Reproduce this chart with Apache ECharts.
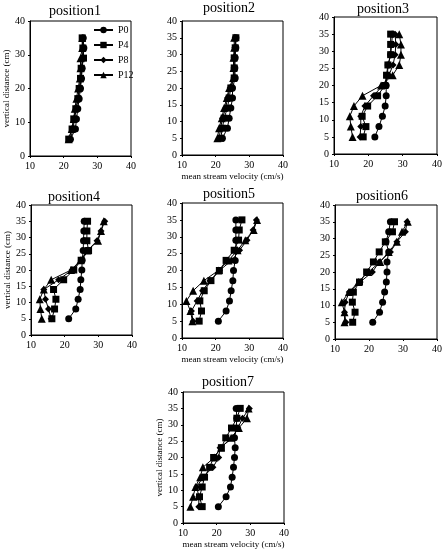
<!DOCTYPE html>
<html>
<head>
<meta charset="utf-8">
<script src="https://cdn.jsdelivr.net/npm/echarts@6/dist/echarts.min.js"></script>
<style>
  html, body { margin: 0; padding: 0; background: #fff; }
  #main { width: 445px; height: 550px; }
</style>
</head>
<body>
<div id="main"></div>
<script>
// measuring heights (cm) shared by every panel
var heights = [5, 8, 11, 14, 17, 20, 23, 26, 29, 32, 35];
var seriesNames = ['P0', 'P4', 'P8', 'P12'];
var symbols = ['circle', 'rect', 'diamond', 'triangle'];
var xTicks = [10, 20, 30, 40];

// mean stream velocity (cm/s) per panel, order P0, P4, P8, P12
var pos1 = [
    [22.0, 23.5, 23.8, 24.2, 24.6, 25.0, 25.3, 25.5, 25.8, 26.0, 25.8],
    [21.5, 22.5, 23.0, 23.6, 24.2, 24.6, 25.0, 25.2, 25.9, 25.7, 25.5],
    [22.0, 22.8, 23.2, 23.8, 24.3, 24.8, 25.2, 25.3, 25.5, 25.8, 25.8],
    [21.5, 22.4, 23.0, 23.3, 23.8, 24.3, 24.8, 25.0, 25.0, 25.5, 25.5]
];
var pos2 = [
    [22.0, 23.5, 24.0, 24.5, 25.0, 25.0, 25.8, 25.7, 25.8, 26.0, 26.0],
    [21.5, 22.0, 22.5, 23.5, 24.0, 24.5, 25.5, 25.5, 25.5, 25.8, 26.0],
    [21.0, 21.5, 22.0, 23.0, 23.5, 24.3, 25.4, 25.4, 25.5, 25.7, 25.8],
    [20.5, 21.0, 21.8, 22.5, 23.3, 24.0, 25.2, 25.3, 25.3, 25.5, 25.5]
];
var pos3 = [
    [21.9, 23.1, 24.1, 24.9, 25.2, 25.2, 25.5, 25.8, 26.5, 26.8, 27.0],
    [18.5, 19.3, 18.2, 19.8, 22.7, 24.8, 25.3, 25.7, 26.5, 26.5, 26.5],
    [17.6, 17.8, 17.8, 19.0, 21.5, 24.2, 26.0, 27.2, 27.8, 28.0, 27.8],
    [15.4, 14.9, 14.6, 15.8, 18.3, 23.7, 27.1, 29.0, 29.5, 29.5, 29.0]
];
var pos4 = [
    [21.2, 23.3, 24.0, 24.6, 24.8, 25.1, 25.2, 25.5, 25.6, 25.7, 25.8],
    [16.2, 17.0, 17.4, 16.7, 19.7, 22.7, 24.9, 27.1, 26.6, 26.6, 26.8],
    [16.0, 15.2, 14.3, 13.8, 18.2, 22.2, 24.9, 26.8, 29.6, 30.8, 31.9],
    [13.2, 12.8, 12.6, 13.8, 16.0, 21.9, 24.7, 26.8, 29.9, 30.8, 31.6]
];
var pos5 = [
    [20.8, 23.1, 24.1, 24.6, 25.1, 25.3, 25.8, 26.0, 26.0, 26.0, 26.0],
    [15.1, 15.8, 15.3, 16.6, 18.6, 21.1, 23.1, 25.5, 26.8, 27.0, 27.8],
    [13.3, 12.8, 14.5, 16.1, 18.3, 21.1, 24.8, 27.1, 29.3, 31.1, 32.1],
    [13.1, 12.5, 11.3, 13.3, 16.5, 20.8, 23.8, 26.5, 28.8, 31.3, 32.3]
];
var pos6 = [
    [21.1, 23.1, 24.0, 24.6, 25.1, 25.3, 25.3, 25.8, 25.0, 25.8, 26.3],
    [15.2, 15.9, 15.1, 15.4, 17.2, 19.3, 21.3, 23.0, 24.8, 26.9, 27.5],
    [13.2, 12.8, 13.0, 14.2, 17.4, 21.0, 23.0, 26.3, 28.2, 30.7, 31.2],
    [12.8, 12.8, 12.0, 14.1, 16.9, 19.8, 23.3, 25.8, 28.2, 29.7, 31.4]
];
var pos7 = [
    [20.5, 22.8, 24.1, 24.6, 25.0, 25.3, 25.5, 25.3, 25.8, 26.0, 25.8],
    [15.7, 14.9, 15.7, 16.4, 17.9, 19.1, 21.4, 22.7, 24.4, 26.0, 27.0],
    [14.7, 14.7, 14.1, 15.9, 18.9, 20.6, 21.0, 24.8, 26.3, 27.7, 29.7],
    [12.2, 13.0, 13.7, 15.1, 15.9, 19.3, 21.3, 24.3, 26.6, 29.0, 29.5]
];
var panels = [pos1, pos2, pos3, pos4, pos5, pos6, pos7];

// layout of each small plot: [left, top, width, height], title position, axis names shown
var layout = [
    { box: [30, 21, 101, 135], tx: 75, ty: 4, xName: false, yName: true, yStep: 10 },
    { box: [182, 21, 101, 134], tx: 229, ty: 1, xName: true, yName: false, yStep: 5 },
    { box: [334, 17, 104, 137], tx: 383, ty: 2, xName: false, yName: false, yStep: 5 },
    { box: [31, 205, 101, 130], tx: 74, ty: 190, xName: false, yName: true, yStep: 5 },
    { box: [182, 203, 101, 135], tx: 229, ty: 187, xName: true, yName: false, yStep: 5 },
    { box: [335, 205, 103, 134], tx: 382, ty: 189, xName: false, yName: false, yStep: 5 },
    { box: [183, 392, 101, 131], tx: 228, ty: 375, xName: true, yName: true, yStep: 5 }
];

var font = 'Liberation Serif';
var grids = [], xAxes = [], yAxes = [], titles = [], series = [];

layout.forEach(function (l, i) {
    grids.push({
        left: l.box[0], top: l.box[1], width: l.box[2], height: l.box[3],
        show: true, borderColor: '#000', borderWidth: 1, backgroundColor: 'transparent'
    });
    titles.push({
        text: 'position' + (i + 1),
        left: l.tx, top: l.ty, textAlign: 'center', padding: 0,
        textStyle: { fontFamily: font, fontSize: 14, fontWeight: 'normal', color: '#000' }
    });
    xAxes.push({
        gridIndex: i, type: 'value', min: xTicks[0], max: xTicks[xTicks.length - 1], interval: 10,
        name: l.xName ? 'mean stream velocity (cm/s)' : '',
        nameLocation: 'middle', nameGap: 17,
        nameTextStyle: { fontFamily: font, fontSize: 9, color: '#000' },
        axisLine: { show: true, lineStyle: { color: '#000', width: 1 } },
        axisTick: { show: true, inside: false, length: 2, lineStyle: { color: '#000' } },
        axisLabel: { fontFamily: font, fontSize: 10, color: '#000', margin: 5 },
        splitLine: { show: false }
    });
    yAxes.push({
        gridIndex: i, type: 'value', min: 0, max: 40, interval: l.yStep,
        name: l.yName ? 'vertical distance (cm)' : '',
        nameLocation: 'middle', nameGap: 19,
        nameTextStyle: { fontFamily: font, fontSize: 9, color: '#000' },
        axisLine: { show: true, lineStyle: { color: '#000', width: 1 } },
        axisTick: { show: true, inside: false, length: 2, lineStyle: { color: '#000' } },
        axisLabel: { fontFamily: font, fontSize: 10, color: '#000', margin: 5 },
        splitLine: { show: false }
    });
    panels[i].forEach(function (vals, k) {
        series.push({
            name: seriesNames[k],
            type: 'line',
            xAxisIndex: i, yAxisIndex: i,
            symbol: symbols[k],
            symbolSize: k === 3 ? 8 : 7,
            showSymbol: true,
            animation: false,
            itemStyle: { color: '#000' },
            lineStyle: { color: '#000', width: 1 },
            data: vals.map(function (v, j) { return [v, heights[j]]; })
        });
    });
});

var chart = echarts.init(document.getElementById('main'));
chart.setOption({
    backgroundColor: '#fff',
    title: titles,
    legend: {
        data: seriesNames,
        orient: 'vertical',
        left: 93, top: 25, padding: 0,
        itemWidth: 19, itemHeight: 8, itemGap: 5,
        textStyle: { fontFamily: font, fontSize: 10, color: '#000' },
        selectedMode: false
    },
    grid: grids,
    xAxis: xAxes,
    yAxis: yAxes,
    series: series
});
</script>
</body>
</html>
